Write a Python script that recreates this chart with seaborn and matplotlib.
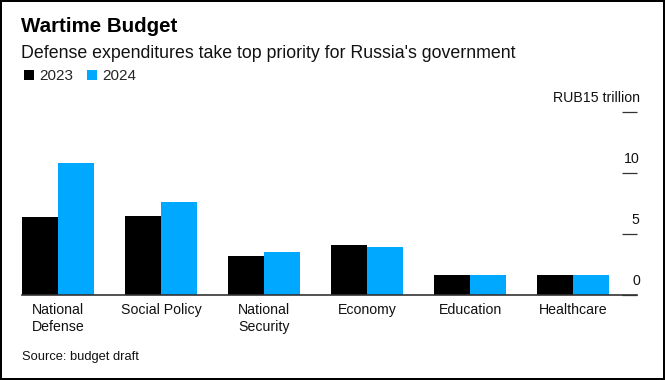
import matplotlib
matplotlib.use("Agg")
import matplotlib.pyplot as plt
import seaborn as sns
import pandas as pd
from matplotlib.patches import Patch

categories = ["National\nDefense", "Social Policy", "National\nSecurity", "Economy", "Education", "Healthcare"]
values_2023 = [6.4, 6.5, 3.2, 4.1, 1.6, 1.65]
values_2024 = [10.8, 7.6, 3.5, 3.95, 1.6, 1.65]
years = ["2023", "2024"]
y_ticks = [0, 5, 10, 15]
y_tick_labels = ["0", "5", "10", "RUB15 trillion"]

colors = {"2023": "#000000", "2024": "#00A9FF"}

df = pd.DataFrame({
    "category": categories * 2,
    "year": [years[0]] * len(categories) + [years[1]] * len(categories),
    "value": values_2023 + values_2024,
})

sns.set_theme(style="white")
plt.rcParams["font.family"] = ["Liberation Sans", "DejaVu Sans"]

fig = plt.figure(figsize=(6.65, 3.8), dpi=100)
fig.patch.set_edgecolor("black")
fig.patch.set_linewidth(1.5)
ax = fig.add_axes([22 / 665, 1 - 295 / 380, (637 - 22) / 665, (295 - 112) / 380])

sns.barplot(data=df, x="category", y="value", hue="year", palette=colors,
            width=0.7, gap=0, ax=ax, legend=False, saturation=1, edgecolor="none")

ax.set_xlim(-0.35, 5.62)
ax.set_ylim(0, 15)
ax.set_xlabel("")
ax.set_ylabel("")
for s in ["top", "left", "right"]:
    ax.spines[s].set_visible(False)
ax.spines["bottom"].set_color("#333333")
ax.spines["bottom"].set_linewidth(1.2)

ax.tick_params(axis="x", length=0, pad=6, labelsize=10.2, colors="#111111")
for t in ax.get_xticklabels():
    t.set_linespacing(1.25)
ax.yaxis.tick_right()
ax.set_yticks(y_ticks)
ax.set_yticklabels([])
ax.tick_params(axis="y", direction="in", length=10.5, width=0.9, color="#333333", right=True, left=False)
for v, lab in zip(y_ticks, y_tick_labels):
    ax.annotate(lab, xy=(1, v), xycoords=("axes fraction", "data"), xytext=(2, 5),
                textcoords="offset points", ha="right", va="bottom", fontsize=10.2,
                color="#111111", annotation_clip=False)

fig.text(21 / 665, 1 - 26 / 380, "Wartime Budget", fontsize=14.8, fontweight="bold",
         va="center", ha="left", color="#000000")
fig.text(21 / 665, 1 - 53 / 380, "Defense expenditures take top priority for Russia's government",
         fontsize=12.8, va="center", ha="left", color="#111111")

handles = [Patch(facecolor=colors[y], edgecolor="none", label=y) for y in years]
fig.legend(handles=handles, loc="center left", bbox_to_anchor=(24 / 665, 1 - 76 / 380),
           ncol=2, frameon=False, fontsize=11, handlelength=0.65, handleheight=0.65,
           handletextpad=0.35, columnspacing=0.9, borderaxespad=0, borderpad=0)

fig.text(22 / 665, 1 - 357 / 380, "Source: budget draft", fontsize=9.3, va="center",
         ha="left", color="#111111")

fig.savefig("out.png", dpi=100)
